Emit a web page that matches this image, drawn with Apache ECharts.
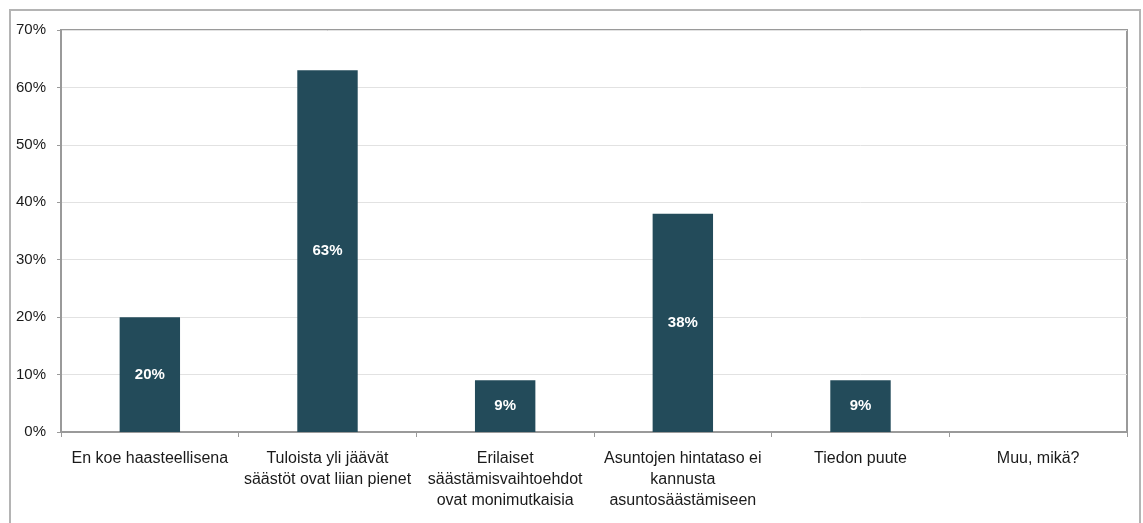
<!DOCTYPE html>
<html>
<head>
    <meta charset="utf-8">
    <title>Säästämisen haasteet</title>
    <style>
        html, body { margin: 0; padding: 0; background: #fff; }
        #frame { position: absolute; left: 9px; top: 9px; width: 1132px; height: 530px;
                 border: 2px solid #b4b4b4; border-bottom: none; box-sizing: border-box; }
        #chart { position: absolute; left: 0; top: 0; width: 1143px; height: 523px; }
    </style>
</head>
<body>
<div id="frame"></div>
<div id="chart"></div>

<script src="https://cdn.jsdelivr.net/npm/echarts@6/dist/echarts.min.js"></script>
<script>
    // vastausvaihtoehdot
    var categories = [
        'En koe haasteellisena',
        'Tuloista yli jäävät\nsäästöt ovat liian pienet',
        'Erilaiset\nsäästämisvaihtoehdot\novat monimutkaisia',
        'Asuntojen hintataso ei\nkannusta\nasuntosäästämiseen',
        'Tiedon puute',
        'Muu, mikä?'
    ];
    // osuudet prosentteina
    var values = [20, 63, 9, 38, 9, 0];
    var yTicks = [0, 10, 20, 30, 40, 50, 60, 70];

    var textFont = '"Liberation Sans", Arial, sans-serif';

    var option = {
        animation: false,
        grid: {
            left: 61, right: 16, top: 30, bottom: 91,
            show: true,
            borderColor: '#9a9a9a',
            borderWidth: 2
        },
        xAxis: {
            type: 'category',
            data: categories,
            axisLine: { lineStyle: { color: '#9a9a9a', width: 2 } },
            axisTick: { show: true, length: 5, lineStyle: { color: '#9a9a9a' } },
            axisLabel: {
                interval: 0,
                margin: 16,
                color: '#1a1a1a',
                fontFamily: textFont,
                fontSize: 16,
                lineHeight: 21
            }
        },
        yAxis: {
            type: 'value',
            min: yTicks[0],
            max: yTicks[yTicks.length - 1],
            interval: 10,
            axisLine: { show: true, lineStyle: { color: '#9a9a9a', width: 2 } },
            axisTick: { show: true, length: 4, lineStyle: { color: '#9a9a9a' } },
            splitLine: { lineStyle: { color: '#e2e2e2' } },
            axisLabel: {
                margin: 15,
                color: '#1a1a1a',
                fontFamily: textFont,
                fontSize: 15,
                formatter: '{value}%'
            }
        },
        series: [{
            type: 'bar',
            data: values,
            barWidth: '34%',
            itemStyle: { color: '#234b5a' },
            label: {
                show: true,
                position: 'inside',
                color: '#ffffff',
                fontFamily: textFont,
                fontSize: 15,
                fontWeight: 'bold',
                formatter: function (p) { return p.value > 0 ? p.value + '%' : ''; }
            }
        }]
    };

    var myChart = echarts.init(document.getElementById('chart'));
    myChart.setOption(option);
</script>
</body>
</html>
